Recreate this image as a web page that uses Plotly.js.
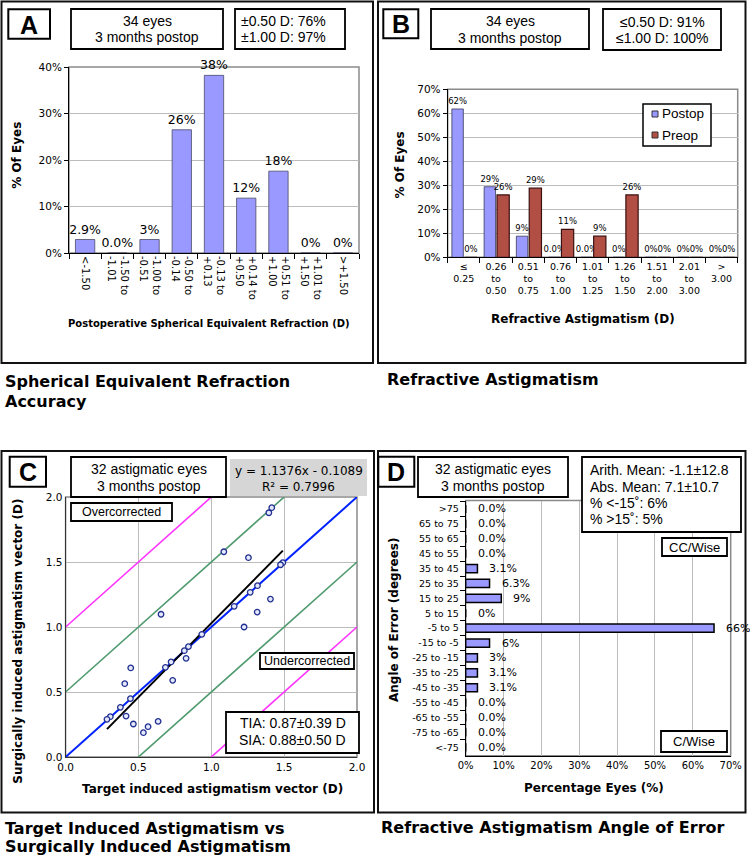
<!DOCTYPE html>
<html><head><meta charset="utf-8">
<script src="https://cdn.plot.ly/plotly-3.0.1.min.js"></script>
<style>html,body{margin:0;padding:0;background:#fff}#chart{width:750px;height:857px}</style>
</head><body><div id="chart"></div>
<script>
// ---------- Panel A: spherical equivalent ----------
const seCategories = ['<-1.50','-1.50 to<br>-1.01','-1.00 to<br>-0.51','-0.50 to<br>-0.14','-0.13 to<br>+0.13','+0.14 to<br>+0.50','+0.51 to<br>+1.00','+1.01 to<br>+1.50','>+1.50'];
const sePercent = [2.9, 0, 2.9, 26.5, 38.2, 11.8, 17.6, 0, 0];
const seLabels = ['2.9%','0.0%','3%','26%','38%','12%','18%','0%','0%'];

// ---------- Panel B: refractive astigmatism ----------
const cylCategories = ['≤<br>0.25','0.26<br>to<br>0.50','0.51<br>to<br>0.75','0.76<br>to<br>1.00','1.01<br>to<br>1.25','1.26<br>to<br>1.50','1.51<br>to<br>2.00','2.01<br>to<br>3.00','><br>3.00'];
const cylPostop = [61.8, 29.4, 8.8, 0, 0, 0, 0, 0, 0];
const cylPreop = [0, 26.0, 28.8, 11.6, 8.8, 26.0, 0, 0, 0];
const cylPostopLabels = ['62%','29%','9%','0.0%','0.0%','0%','0%','0%','0%'];
const cylPreopLabels = ['0%','26%','29%','11%','9%','26%','0%','0%','0%'];

// ---------- Panel C: TIA vs SIA ----------
const tiaX = [0.655,0.935,0.843,0.815,0.827,0.724,0.685,0.735,0.447,0.406,0.445,0.376,0.415,0.307,0.284,0.465,0.566,0.635,0.534,
              1.415,1.395,1.086,1.255,1.491,1.475,1.317,1.267,1.406,1.157,1.315,1.225];
const siaY = [1.098,0.944,0.849,0.818,0.759,0.731,0.690,0.590,0.685,0.564,0.449,0.382,0.315,0.310,0.290,0.254,0.233,0.274,0.187,
              1.918,1.879,1.579,1.533,1.495,1.479,1.318,1.267,1.215,1.159,1.115,1.000];
const refOffsets = [1, 0.5, 0, -0.5, -1];
const refColors = ['#ff33ff','#4f9a6e','#0022ff','#4f9a6e','#ff33ff'];
const regSlope = 1.1376, regIntercept = -0.1089;
const cRange = [0, 2];

// ---------- Panel D: angle of error ----------
const aoeCategories = ['>75','65 to 75','55 to 65','45 to 55','35 to 45','25 to 35','15 to 25','5 to 15','-5 to 5','-15 to -5','-25 to -15','-35 to -25','-45 to -35','-55 to -45','-65 to -55','-75 to -65','<-75'];
const aoePercent = [0,0,0,0,3.1,6.3,9.4,0,65.6,6.3,3.1,3.1,3.1,0,0,0,0];
const aoeLabels = ['0.0%','0.0%','0.0%','0.0%','3.1%','6.3%','9%','0%','66%','6%','3%','3.1%','3.1%','0.0%','0.0%','0.0%','0.0%'];

// ---------- helpers ----------
const W = 750, H = 857;
const fx = x => x / W, fy = y => 1 - y / H;
const shapes = [], annotations = [];
const ARIAL = 'Liberation Sans, Arial, sans-serif';
const VERD = 'DejaVu Sans, Verdana, sans-serif';
function rect(x0, y0, x1, y1, o = {}) {
  shapes.push({type:'rect', xref:'paper', yref:'paper', x0:fx(x0), x1:fx(x1), y0:fy(y1), y1:fy(y0),
    line:{color:o.lc || '#000', width:(o.lw === undefined ? 1.5 : o.lw)},
    fillcolor:o.fill || 'rgba(0,0,0,0)', layer:o.layer || 'above'});
}
function text(x, y, t, o = {}) {
  annotations.push({xref:'paper', yref:'paper', x:fx(x), y:fy(y), text:t, showarrow:false,
    xanchor:o.xa || 'center', yanchor:'middle', textangle:o.angle || 0,
    font:{family:o.family || ARIAL, size:o.size || 14, color:'#000'}});
}
function box(x0, y0, x1, y1, lines, ys, o = {}) {
  rect(x0, y0, x1, y1, {fill:o.fill || '#fff', lw:(o.lw === undefined ? 1.8 : o.lw), lc:o.lc});
  lines.forEach((l, i) => {
    if (o.align === 'left') text(x0 + (o.pad || 5), ys[i], l, {xa:'left', size:o.size, family:o.family});
    else text((x0 + x1) / 2, ys[i], l, {size:o.size, family:o.family});
  });
}

// plot-area domains (pixels)
const dA = {x:[69, 359], y:[67, 253]};
const dB = {x:[447.7, 737.7], y:[89.3, 257.3]};
const dC = {x:[65.6, 357], y:[497, 757]};
const dD = {x:[465.7, 730.7], y:[500.5, 755.8]};
const xd = d => [fx(d.x[0]), fx(d.x[1])];
const yd = d => [fy(d.y[1]), fy(d.y[0])];

const GRID = '#bcbcbc';
const tickF = s => ({family:VERD, size:s, color:'#000'});

// ---------- traces ----------
const traces = [];
traces.push({type:'bar', x:seCategories, y:sePercent, xaxis:'x', yaxis:'y', width:0.6,
  marker:{color:'#9999ff', line:{color:'#4a4a6a', width:0.8}},
  text:seLabels, textposition:'outside', cliponaxis:false, constraintext:'none',
  textfont:{family:VERD, size:12.5, color:'#000'}, showlegend:false, hoverinfo:'skip'});

traces.push({type:'bar', name:'Postop', x:cylCategories, y:cylPostop, xaxis:'x2', yaxis:'y2', offset:-0.37, width:0.355,
  marker:{color:'#9999ff', line:{color:'#3a3a5a', width:0.8}},
  text:cylPostopLabels, textposition:'outside', cliponaxis:false, constraintext:'none',
  textfont:{family:VERD, size:8.5, color:'#000'}, showlegend:false, hoverinfo:'skip'});
traces.push({type:'bar', name:'Preop', x:cylCategories, y:cylPreop, xaxis:'x2', yaxis:'y2', offset:0.03, width:0.38,
  marker:{color:'#b24f45', line:{color:'#3a0f0f', width:1.2}},
  text:cylPreopLabels, textposition:'outside', cliponaxis:false, constraintext:'none',
  textfont:{family:VERD, size:8.5, color:'#000'}, showlegend:false, hoverinfo:'skip'});

refOffsets.forEach((k, i) => {
  traces.push({type:'scatter', mode:'lines', x:cRange, y:cRange.map(v => v + k), xaxis:'x3', yaxis:'y3',
    line:{color:refColors[i], width:k === 0 ? 2 : 1.6}, showlegend:false, hoverinfo:'skip'});
});
const xMin = Math.min(...tiaX), xMax = Math.max(...tiaX);
traces.push({type:'scatter', mode:'lines', x:[xMin, xMax], y:[xMin, xMax].map(v => regSlope * v + regIntercept),
  xaxis:'x3', yaxis:'y3', line:{color:'#000', width:2}, showlegend:false, hoverinfo:'skip'});
traces.push({type:'scatter', mode:'markers', x:tiaX, y:siaY, xaxis:'x3', yaxis:'y3',
  marker:{symbol:'circle', size:5.5, color:'#e4e8ff', line:{color:'#22308f', width:1.3}}, showlegend:false, hoverinfo:'skip'});

traces.push({type:'bar', orientation:'h', x:aoePercent, y:aoeCategories, xaxis:'x4', yaxis:'y4', width:0.55,
  marker:{color:'#9999ff', line:{color:'#000', width:1.5}}, showlegend:false, hoverinfo:'skip'});

// bar labels panel D
aoeCategories.forEach((c, i) => {
  annotations.push({xref:'x4', yref:'y4', x:aoePercent[i], y:c, text:aoeLabels[i], showarrow:false,
    xanchor:'left', yanchor:'middle', xshift:10, font:{family:VERD, size:11, color:'#000'}});
});

// ---------- plot-area borders ----------
[dA, dB, dC, dD].forEach(d => rect(d.x[0], d.y[0], d.x[1], d.y[1], {lc:'#8a8a8a', lw:1.5, layer:'between'}));

// ---------- panel frames ----------
rect(1.5, 1.5, 373, 363, {lw:2, lc:'#111', layer:'below'});
rect(378, 1.5, 745.5, 363, {lw:2, lc:'#111', layer:'below'});
rect(1.5, 451, 374, 812.5, {lw:2, lc:'#111', layer:'below'});
rect(378, 451, 745.5, 812.5, {lw:2, lc:'#111', layer:'below'});

// ---------- Panel A boxes/text ----------
box(8.3, 9.3, 50, 38.7, ['<b>A</b>'], [24.5], {size:25, lw:2});
box(71, 9, 223, 49, ['34 eyes', '3 months postop'], [20.7, 36.7], {size:14});
box(235, 9, 345, 49, ['±0.50 D: 76%', '±1.00 D: 97%'], [20.7, 36.7], {size:14, align:'left', pad:4});
text(16.8, 155, '<b>% Of Eyes</b>', {family:VERD, size:12, angle:-90});
text(209, 323.3, '<b>Postoperative Spherical Equivalent Refraction (D)</b>', {family:VERD, size:10});
text(3, 381.7, '<b>Spherical Equivalent Refraction</b>', {family:VERD, size:16, xa:'left'});
text(3, 401.7, '<b>Accuracy</b>', {family:VERD, size:16, xa:'left'});

// ---------- Panel B boxes/text ----------
box(383.3, 9.3, 418.3, 38.3, ['<b>B</b>'], [24], {size:25, lw:2});
box(431, 9, 589, 49, ['34 eyes', '3 months postop'], [21, 38], {size:14});
box(603, 9, 721, 50, ['≤0.50 D: 91%', '≤1.00 D: 100%'], [21.7, 38.3], {size:14});
rect(643, 104, 711, 146, {fill:'#fff', lw:1.5});
rect(652, 111, 658, 117, {fill:'#9999ff', lw:1, lc:'#333'});
rect(652, 132, 658, 138, {fill:'#b24f45', lw:1, lc:'#333'});
text(660, 114, 'Postop', {xa:'left', size:13.5});
text(660, 135, 'Preop', {xa:'left', size:13.5});
text(399.5, 165, '<b>% Of Eyes</b>', {family:VERD, size:12, angle:-90});
text(583.3, 319.3, '<b>Refractive Astigmatism (D)</b>', {family:VERD, size:12});
text(385, 380, '<b>Refractive Astigmatism</b>', {family:VERD, size:16, xa:'left'});

// ---------- Panel C boxes/text ----------
box(9.7, 456.7, 46, 486.7, ['<b>C</b>'], [471.5], {size:25, lw:2});
box(71, 457, 226, 497, ['32 astigmatic eyes', '3 months postop'], [469, 486], {size:14});
box(230, 459, 367, 496, ['y = 1.1376x - 0.1089', 'R² = 0.7996'], [470.5, 486.5], {size:12, family:VERD, fill:'#d6d6d6', lw:0, lc:'#d6d6d6'});
box(71, 503, 172, 521, ['Overcorrected'], [512], {size:12.5});
box(260, 653, 354, 669, ['Undercorrected'], [661], {size:12.5});
box(226, 712, 359, 753, ['TIA: 0.87±0.39 D', 'SIA: 0.88±0.50 D'], [723, 739.5], {size:14});
text(17.7, 641, '<b>Surgically induced astigmatism vector (D)</b>', {family:VERD, size:12, angle:-90});
text(212.5, 789, '<b>Target induced astigmatism vector (D)</b>', {family:VERD, size:12});
text(3, 828.3, '<b>Target Induced Astigmatism vs</b>', {family:VERD, size:16, xa:'left'});
text(3, 846.7, '<b>Surgically Induced Astigmatism</b>', {family:VERD, size:16, xa:'left'});

// ---------- Panel D boxes/text ----------
box(378.3, 456.7, 414.3, 486.7, ['<b>D</b>'], [471.5], {size:25, lw:2});
box(418, 457, 568, 497, ['32 astigmatic eyes', '3 months postop'], [469, 486], {size:14});
box(582, 457, 741, 532, ['Arith. Mean: -1.1±12.8', 'Abs. Mean: 7.1±10.7', '% &lt;-15˚: 6%', '% &gt;15˚: 5%'], [470, 486.5, 503, 519], {size:14, align:'left', pad:6});
box(662, 538, 727, 556, ['CC/Wise'], [547], {size:13});
box(661, 731, 727, 752, ['C/Wise'], [741.5], {size:13});
text(394, 620, '<b>Angle of Error (degrees)</b>', {family:VERD, size:12, angle:-90});
text(594, 788, '<b>Percentage Eyes (%)</b>', {family:VERD, size:12});
text(379, 827.7, '<b>Refractive Astigmatism Angle of Error</b>', {family:VERD, size:16, xa:'left'});

// ---------- layout ----------
const catX = (d, extra) => Object.assign({domain:xd(d), type:'category', showgrid:false, showline:true, linecolor:'#000', linewidth:1,
  ticks:'outside', tickson:'boundaries', ticklen:5, tickcolor:'#000', fixedrange:true}, extra);
const layout = {
  width:W, height:H, margin:{l:0, r:0, t:0, b:0}, autosize:false,
  paper_bgcolor:'#fff', plot_bgcolor:'#fff', barmode:'overlay', showlegend:false,
  font:{family:VERD, color:'#000'},
  xaxis: catX(dA, {anchor:'y', tickangle:90, tickfont:tickF(10)}),
  yaxis: {domain:yd(dA), anchor:'x', range:[0,40], dtick:10, ticksuffix:'%', gridcolor:GRID, showline:true, linecolor:'#000',
          ticks:'outside', ticklen:4, tickcolor:'#000', zeroline:false, tickfont:tickF(10.5), fixedrange:true},
  xaxis2: catX(dB, {anchor:'y2', tickangle:0, tickfont:tickF(9.5)}),
  yaxis2: {domain:yd(dB), anchor:'x2', range:[0,70], dtick:10, ticksuffix:'%', gridcolor:GRID, showline:true, linecolor:'#000',
           ticks:'outside', ticklen:4, tickcolor:'#000', zeroline:false, tickfont:tickF(10.5), fixedrange:true},
  xaxis3: {domain:xd(dC), anchor:'y3', range:cRange, dtick:0.5, tickformat:'.1f', gridcolor:GRID, showline:true, linecolor:'#333',
           ticks:'', zeroline:false, tickfont:tickF(10.5), fixedrange:true},
  yaxis3: {domain:yd(dC), anchor:'x3', range:cRange, dtick:0.5, tickformat:'.1f', gridcolor:GRID, showline:true, linecolor:'#333',
           ticks:'', zeroline:false, tickfont:tickF(10.5), fixedrange:true},
  xaxis4: {domain:xd(dD), anchor:'y4', range:[0,70], dtick:10, ticksuffix:'%', gridcolor:GRID, showline:true, linecolor:'#000',
           ticks:'', zeroline:false, tickfont:tickF(10), fixedrange:true},
  yaxis4: {domain:yd(dD), anchor:'x4', type:'category', autorange:'reversed', showgrid:false, showline:true, linecolor:'#000',
           ticks:'outside', tickson:'boundaries', ticklen:5, tickcolor:'#000', tickfont:tickF(9.5), ticklabelstandoff:4, fixedrange:true},
  shapes:shapes, annotations:annotations
};
Plotly.newPlot('chart', traces, layout, {displayModeBar:false, staticPlot:true});
</script>
</body></html>
